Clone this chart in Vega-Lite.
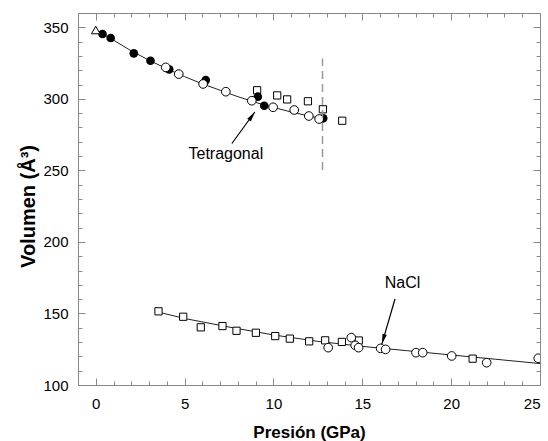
{
  "$schema": "https://vega.github.io/schema/vega-lite/v6.json",
  "width": 462,
  "height": 372,
  "autosize": "none",
  "padding": {"left": 78, "top": 13, "right": 8, "bottom": 56},
  "background": "white",
  "config": {
    "view": {"stroke": "#888888", "strokeWidth": 1},
    "axis": {"grid": false, "domain": false, "tickColor": "#888888", "tickWidth": 1, "labelFont": "Liberation Sans", "titleFont": "Liberation Sans", "labelColor": "#000000", "titleColor": "#000000", "labelFontSize": 15, "titleFontSize": 17, "titleFontWeight": "bold"}
  },
  "datasets": {
    "pts": [
      {"P": 9.08, "V": 306.0, "m": "square"},
      {"P": 10.21, "V": 302.4, "m": "square"},
      {"P": 10.77, "V": 299.6, "m": "square"},
      {"P": 11.94, "V": 298.3, "m": "square"},
      {"P": 12.78, "V": 292.7, "m": "square"},
      {"P": 13.87, "V": 284.7, "m": "square"},
      {"P": 3.53, "V": 151.5, "m": "square"},
      {"P": 4.92, "V": 147.7, "m": "square"},
      {"P": 5.91, "V": 140.3, "m": "square"},
      {"P": 7.13, "V": 141.2, "m": "square"},
      {"P": 7.92, "V": 137.9, "m": "square"},
      {"P": 9.01, "V": 136.5, "m": "square"},
      {"P": 10.10, "V": 134.2, "m": "square"},
      {"P": 10.92, "V": 132.4, "m": "square"},
      {"P": 12.01, "V": 130.5, "m": "square"},
      {"P": 12.91, "V": 131.2, "m": "square"},
      {"P": 13.85, "V": 130.1, "m": "square"},
      {"P": 14.80, "V": 131.1, "m": "square"},
      {"P": 21.21, "V": 118.4, "m": "square"},
      {"P": 0.38, "V": 345.3, "m": "filled"},
      {"P": 0.84, "V": 342.5, "m": "filled"},
      {"P": 2.14, "V": 331.8, "m": "filled"},
      {"P": 3.08, "V": 326.6, "m": "filled"},
      {"P": 4.13, "V": 320.6, "m": "filled"},
      {"P": 6.19, "V": 313.1, "m": "filled"},
      {"P": 9.12, "V": 301.5, "m": "filled"},
      {"P": 9.48, "V": 295.2, "m": "filled"},
      {"P": 12.80, "V": 286.4, "m": "filled"},
      {"P": 3.94, "V": 322.0, "m": "open"},
      {"P": 4.67, "V": 317.3, "m": "open"},
      {"P": 6.04, "V": 310.4, "m": "open"},
      {"P": 7.32, "V": 305.0, "m": "open"},
      {"P": 8.78, "V": 298.7, "m": "open"},
      {"P": 9.98, "V": 294.1, "m": "open"},
      {"P": 11.17, "V": 292.2, "m": "open"},
      {"P": 11.99, "V": 288.0, "m": "open"},
      {"P": 12.57, "V": 285.9, "m": "open"},
      {"P": 13.08, "V": 126.1, "m": "open"},
      {"P": 14.38, "V": 133.1, "m": "open"},
      {"P": 14.60, "V": 127.7, "m": "open"},
      {"P": 14.79, "V": 126.1, "m": "open"},
      {"P": 16.03, "V": 125.6, "m": "open"},
      {"P": 16.31, "V": 124.9, "m": "open"},
      {"P": 18.02, "V": 122.6, "m": "open"},
      {"P": 18.40, "V": 122.6, "m": "open"},
      {"P": 20.03, "V": 120.3, "m": "open"},
      {"P": 22.0, "V": 115.6, "m": "open"},
      {"P": 24.9, "V": 118.7, "m": "open"},
      {"P": 0.0, "V": 348.1, "m": "tri"}
    ],
    "fit": [
      {"P": 0, "V": 348, "s": "tet"},
      {"P": 1, "V": 341, "s": "tet"},
      {"P": 2, "V": 333.5, "s": "tet"},
      {"P": 3, "V": 327, "s": "tet"},
      {"P": 4, "V": 321, "s": "tet"},
      {"P": 5, "V": 315.5, "s": "tet"},
      {"P": 6, "V": 310.5, "s": "tet"},
      {"P": 7, "V": 306, "s": "tet"},
      {"P": 8, "V": 301.5, "s": "tet"},
      {"P": 9, "V": 297.5, "s": "tet"},
      {"P": 10, "V": 294, "s": "tet"},
      {"P": 11, "V": 290.8, "s": "tet"},
      {"P": 12, "V": 288, "s": "tet"},
      {"P": 12.75, "V": 286, "s": "tet"},
      {"P": 3.5, "V": 151, "s": "nacl"},
      {"P": 5, "V": 146.5, "s": "nacl"},
      {"P": 7.5, "V": 140.5, "s": "nacl"},
      {"P": 10, "V": 135, "s": "nacl"},
      {"P": 12.5, "V": 130.5, "s": "nacl"},
      {"P": 15, "V": 127, "s": "nacl"},
      {"P": 17.5, "V": 124, "s": "nacl"},
      {"P": 20, "V": 121, "s": "nacl"},
      {"P": 22.5, "V": 118, "s": "nacl"},
      {"P": 25, "V": 115, "s": "nacl"}
    ],
    "arrows": [
      {"P": 7.66, "V": 268.8, "s": "tet"},
      {"P": 8.95, "V": 290.8, "s": "tet"},
      {"P": 16.84, "V": 160.1, "s": "nacl"},
      {"P": 16.1, "V": 128.6, "s": "nacl"}
    ],
    "heads": [
      {"P": 8.79, "V": 288.0, "s": "tet"},
      {"P": 16.18, "V": 132.0, "s": "nacl"}
    ],
    "labels": [
      {"P": 7.32, "V": 257.7, "t": "Tetragonal"},
      {"P": 17.26, "V": 168.0, "t": "NaCl"}
    ],
    "phase": [
      {"P": 12.76, "V1": 250.2, "V2": 328.2}
    ]
  },
  "resolve": {"axis": {"x": "independent", "y": "independent"}},
  "layer": [
    {
      "data": {"name": "fit"},
      "mark": {"type": "line", "color": "#222222", "strokeWidth": 1, "clip": true},
      "encoding": {
        "x": {"field": "P", "type": "quantitative", "scale": {"domain": [-1, 25], "nice": false, "zero": false},
          "axis": {"orient": "bottom", "values": [0, 5, 10, 15, 20, 25], "tickSize": -7, "labelPadding": 18, "title": "Presión (GPa)", "titleX": 231, "titleY": 47, "titleBaseline": "middle"}},
        "y": {"field": "V", "type": "quantitative", "scale": {"domain": [100, 360], "nice": false, "zero": false},
          "axis": {"orient": "left", "values": [100, 150, 200, 250, 300, 350], "tickSize": -7, "labelPadding": 17, "title": "Volumen (Å³)", "titleFontSize": 20, "titleX": -50, "titleY": 193, "titleBaseline": "middle"}},
        "detail": {"field": "s"}
      }
    },
    {
      "data": {"name": "pts"},
      "transform": [{"filter": "datum.m === 'square'"}],
      "mark": {"type": "point", "shape": "square", "size": 52, "filled": false, "stroke": "#000000", "fill": "white", "fillOpacity": 1, "strokeWidth": 1, "opacity": 1, "clip": true},
      "encoding": {
        "x": {"field": "P", "type": "quantitative", "scale": {"domain": [-1, 25], "nice": false, "zero": false},
          "axis": {"orient": "bottom", "values": [-1, 1, 2, 3, 4, 6, 7, 8, 9, 11, 12, 13, 14, 16, 17, 18, 19, 21, 22, 23, 24], "tickSize": -4, "labels": false, "title": null}},
        "y": {"field": "V", "type": "quantitative", "scale": {"domain": [100, 360], "nice": false, "zero": false},
          "axis": {"orient": "left", "values": [110, 120, 130, 140, 160, 170, 180, 190, 210, 220, 230, 240, 260, 270, 280, 290, 310, 320, 330, 340, 360], "tickSize": -4, "labels": false, "title": null}}
      }
    },
    {
      "data": {"name": "pts"},
      "transform": [{"filter": "datum.m === 'filled'"}],
      "mark": {"type": "point", "shape": "circle", "size": 75, "filled": true, "color": "#000000", "opacity": 1, "clip": true},
      "encoding": {
        "x": {"field": "P", "type": "quantitative", "scale": {"domain": [-1, 25], "nice": false, "zero": false},
          "axis": {"orient": "top", "values": [0, 5, 10, 15, 20, 25], "tickSize": -7, "labels": false, "title": null}},
        "y": {"field": "V", "type": "quantitative", "scale": {"domain": [100, 360], "nice": false, "zero": false},
          "axis": {"orient": "right", "values": [100, 150, 200, 250, 300, 350], "tickSize": -7, "labels": false, "title": null}}
      }
    },
    {
      "data": {"name": "pts"},
      "transform": [{"filter": "datum.m === 'open'"}],
      "mark": {"type": "point", "shape": "circle", "size": 75, "filled": false, "stroke": "#000000", "fill": "white", "fillOpacity": 1, "strokeWidth": 1, "opacity": 1, "clip": true},
      "encoding": {
        "x": {"field": "P", "type": "quantitative", "scale": {"domain": [-1, 25], "nice": false, "zero": false},
          "axis": {"orient": "top", "values": [-1, 1, 2, 3, 4, 6, 7, 8, 9, 11, 12, 13, 14, 16, 17, 18, 19, 21, 22, 23, 24], "tickSize": -4, "labels": false, "title": null}},
        "y": {"field": "V", "type": "quantitative", "scale": {"domain": [100, 360], "nice": false, "zero": false},
          "axis": {"orient": "right", "values": [110, 120, 130, 140, 160, 170, 180, 190, 210, 220, 230, 240, 260, 270, 280, 290, 310, 320, 330, 340, 360], "tickSize": -4, "labels": false, "title": null}}
      }
    },
    {
      "data": {"name": "pts"},
      "transform": [{"filter": "datum.m === 'tri'"}],
      "mark": {"type": "point", "shape": "triangle-up", "size": 75, "filled": false, "stroke": "#000000", "fill": "white", "fillOpacity": 1, "strokeWidth": 1, "opacity": 1},
      "encoding": {
        "x": {"field": "P", "type": "quantitative", "scale": {"domain": [-1, 25], "nice": false, "zero": false}, "axis": null},
        "y": {"field": "V", "type": "quantitative", "scale": {"domain": [100, 360], "nice": false, "zero": false}, "axis": null}
      }
    },
    {
      "data": {"name": "phase"},
      "mark": {"type": "rule", "color": "#999999", "strokeWidth": 1.5, "strokeDash": [8, 5]},
      "encoding": {
        "x": {"field": "P", "type": "quantitative", "scale": {"domain": [-1, 25], "nice": false, "zero": false}, "axis": null},
        "y": {"field": "V1", "type": "quantitative", "scale": {"domain": [100, 360], "nice": false, "zero": false}, "axis": null},
        "y2": {"field": "V2"}
      }
    },
    {
      "data": {"name": "arrows"},
      "mark": {"type": "line", "color": "#000000", "strokeWidth": 1.2},
      "encoding": {
        "x": {"field": "P", "type": "quantitative", "scale": {"domain": [-1, 25], "nice": false, "zero": false}, "axis": null},
        "y": {"field": "V", "type": "quantitative", "scale": {"domain": [100, 360], "nice": false, "zero": false}, "axis": null},
        "detail": {"field": "s"}
      }
    },
    {
      "data": {"name": "heads"},
      "transform": [{"filter": "datum.s === 'tet'"}],
      "mark": {"type": "point", "shape": "M0,-1L0.45,1L-0.45,1Z", "size": 100, "filled": true, "color": "#000000", "opacity": 1, "angle": 36},
      "encoding": {
        "x": {"field": "P", "type": "quantitative", "scale": {"domain": [-1, 25], "nice": false, "zero": false}, "axis": null},
        "y": {"field": "V", "type": "quantitative", "scale": {"domain": [100, 360], "nice": false, "zero": false}, "axis": null}
      }
    },
    {
      "data": {"name": "heads"},
      "transform": [{"filter": "datum.s === 'nacl'"}],
      "mark": {"type": "point", "shape": "M0,-1L0.45,1L-0.45,1Z", "size": 100, "filled": true, "color": "#000000", "opacity": 1, "angle": 196},
      "encoding": {
        "x": {"field": "P", "type": "quantitative", "scale": {"domain": [-1, 25], "nice": false, "zero": false}, "axis": null},
        "y": {"field": "V", "type": "quantitative", "scale": {"domain": [100, 360], "nice": false, "zero": false}, "axis": null}
      }
    },
    {
      "data": {"name": "labels"},
      "mark": {"type": "text", "font": "Liberation Sans", "fontSize": 16, "color": "#000000", "align": "center", "baseline": "alphabetic"},
      "encoding": {
        "x": {"field": "P", "type": "quantitative", "scale": {"domain": [-1, 25], "nice": false, "zero": false}, "axis": null},
        "y": {"field": "V", "type": "quantitative", "scale": {"domain": [100, 360], "nice": false, "zero": false}, "axis": null},
        "text": {"field": "t"}
      }
    }
  ]
}
